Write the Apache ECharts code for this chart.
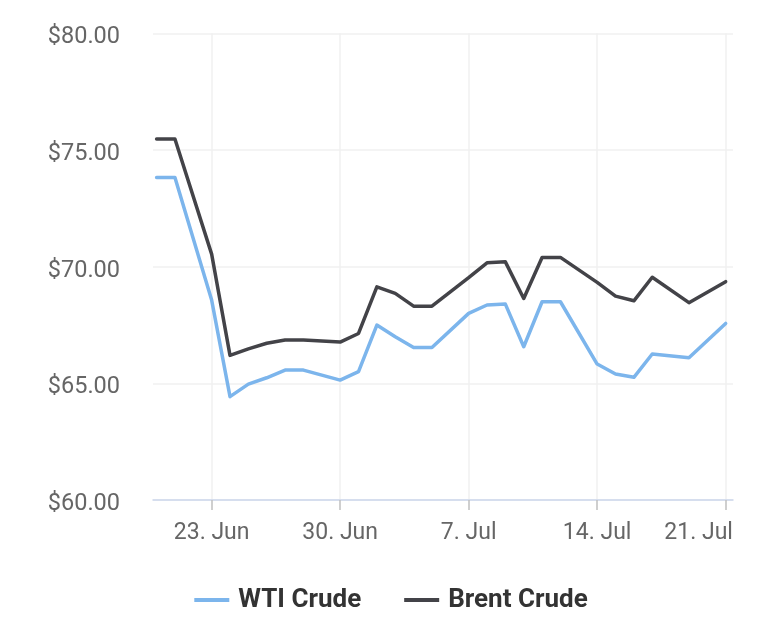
<!DOCTYPE html>
<html>
<head>
<meta charset="utf-8">
<script src="https://cdn.jsdelivr.net/npm/echarts@6/dist/echarts.min.js"></script>
<style>
html,body{margin:0;padding:0;background:#fff;}
#chart{width:782px;height:634px;}
</style>
</head>
<body>
<div id="chart"></div>
<script>
// Dates (year, month 1-12, day)
const dates = [
  [2025,6,20],[2025,6,21],[2025,6,23],[2025,6,24],[2025,6,25],[2025,6,26],[2025,6,27],[2025,6,28],
  [2025,6,30],[2025,7,1],[2025,7,2],[2025,7,3],[2025,7,4],[2025,7,5],
  [2025,7,7],[2025,7,8],[2025,7,9],[2025,7,10],[2025,7,11],[2025,7,12],
  [2025,7,14],[2025,7,15],[2025,7,16],[2025,7,17],[2025,7,19],[2025,7,21]
];
const wtiValues = [
  73.83,73.83,68.57,64.43,64.97,65.24,65.57,65.57,
  65.14,65.50,67.50,67.00,66.54,66.54,
  68.00,68.36,68.40,66.57,68.50,68.50,
  65.83,65.40,65.26,66.26,66.10,67.57
];
const brentValues = [
  75.48,75.48,70.54,66.20,66.48,66.72,66.86,66.86,
  66.77,67.14,69.14,68.86,68.31,68.31,
  69.53,70.17,70.21,68.64,70.40,70.40,
  69.33,68.74,68.54,69.55,68.46,69.36
];
const tickDates = [[2025,6,23],[2025,6,30],[2025,7,7],[2025,7,14],[2025,7,21]];
const monthNames = ['Jan','Feb','Mar','Apr','May','Jun','Jul','Aug','Sep','Oct','Nov','Dec'];

const ts = d => new Date(d[0], d[1]-1, d[2]).getTime();
const DAY = 86400000;
const xMin = ts([2025,6,23]) - 3.195*DAY;
const xMax = ts([2025,7,21]) + 0.40*DAY;
const tickVals = tickDates.map(ts);
const lastTick = tickVals[tickVals.length-1];

const chart = echarts.init(document.getElementById('chart'), null, {renderer:'canvas'});
const FONT = 'Roboto, "Noto Sans", sans-serif';
chart.setOption({
  animation:false,
  backgroundColor:'#ffffff',
  grid:{left:153, right:49, top:33.5, bottom:134, containLabel:false},
  legend:{
    bottom:16, left:'center',
    itemWidth:35, itemHeight:4, itemGap:43,
    icon:'rect',
    textStyle:{fontFamily:FONT, fontSize:26, fontWeight:'bold', color:'#333333', padding:[0,0,0,4]},
    data:['WTI Crude','Brent Crude']
  },
  xAxis:{
    type:'value',
    min:xMin, max:xMax,
    axisLine:{show:true, lineStyle:{color:'#ccd6eb', width:1.5}},
    axisTick:{show:true, length:10, lineStyle:{color:'#c0c0c0', width:1.5}, customValues: tickVals},
    axisLabel:{
      customValues: tickVals,
      margin:22,
      color:'#666666', fontFamily:FONT, fontSize:23,
      formatter: v => {
        const d=new Date(v); const s = d.getDate()+'. '+monthNames[d.getMonth()];
        return v === lastTick ? '{last|' + s + '}' : s;
      },
      rich:{ last:{ color:'#666666', fontFamily:FONT, fontSize:23, padding:[0,54,0,0] } }
    },
    splitLine:{show:true, lineStyle:{color:'#f0f0f0', width:1.5}}
  },
  yAxis:{
    type:'value',
    min:60, max:80, interval:5,
    axisLine:{show:false}, axisTick:{show:false},
    axisLabel:{margin:33, color:'#666666', fontFamily:FONT, fontSize:23.5,
      formatter: v => '{a|$' + v.toFixed(2) + '}',
      rich:{ a:{ color:'#666666', fontFamily:FONT, fontSize:23.5, padding:[8,0,0,0] } }},
    splitLine:{lineStyle:{color:'#f0f0f0', width:1.5}}
  },
  series:[
    {name:'WTI Crude', type:'line', showSymbol:false, symbol:'none',
     data: dates.map((d,i)=>[ts(d), wtiValues[i]]),
     itemStyle:{color:'#7cb5ec'}, lineStyle:{color:'#7cb5ec', width:3.5, join:'round', cap:'round'}},
    {name:'Brent Crude', type:'line', showSymbol:false, symbol:'none',
     data: dates.map((d,i)=>[ts(d), brentValues[i]]),
     itemStyle:{color:'#434348'}, lineStyle:{color:'#434348', width:3.5, join:'round', cap:'round'}}
  ]
});
</script>
</body>
</html>
